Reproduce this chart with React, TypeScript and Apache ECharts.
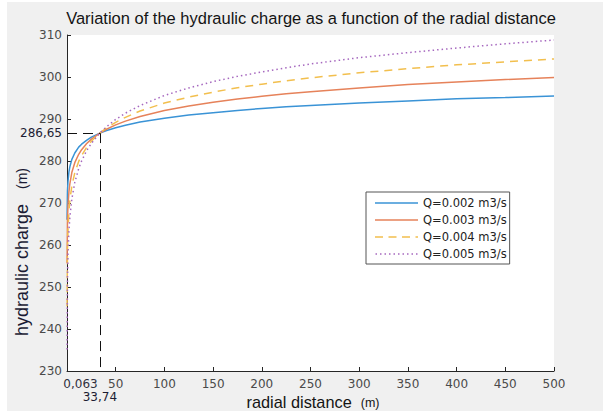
import React, { useEffect, useRef } from "react";
import * as echarts from "echarts";

const radialDistance = [0.063, 0.5, 1, 2, 3, 5, 8, 12, 15, 20, 25, 33.74, 40, 50, 60, 75, 100, 125, 150, 175, 200, 225, 250, 300, 350, 400, 450, 500];
const chargeQ002 = [266.0, 272.8, 275.1, 277.4, 278.7, 280.4, 281.9, 283.3, 284.0, 284.9, 285.7, 286.65, 287.2, 287.9, 288.5, 289.3, 290.2, 290.95, 291.5, 292.05, 292.5, 292.9, 293.2, 293.8, 294.3, 294.8, 295.1, 295.5];
const chargeQ003 = [255.7, 265.9, 269.3, 272.7, 274.7, 277.3, 279.6, 281.6, 282.7, 284.1, 285.2, 286.65, 287.5, 288.6, 289.5, 290.6, 292.0, 293.1, 294.0, 294.75, 295.4, 296.0, 296.5, 297.4, 298.2, 298.8, 299.4, 299.9];
const chargeQ004 = [245.4, 259.0, 263.6, 268.1, 270.8, 274.1, 277.2, 279.9, 281.3, 283.2, 284.7, 286.65, 287.8, 289.2, 290.4, 291.9, 293.8, 295.2, 296.4, 297.45, 298.3, 299.1, 299.8, 301.0, 302.0, 302.9, 303.6, 304.3];
const chargeQ005 = [235.1, 252.1, 257.8, 263.5, 266.8, 271.0, 274.9, 278.2, 280.0, 282.4, 284.2, 286.65, 288.05, 289.9, 291.4, 293.2, 295.6, 297.4, 298.9, 300.15, 301.2, 302.2, 303.1, 304.6, 305.8, 306.9, 307.9, 308.8];
const seriesNames = ["Q=0.002 m3/s", "Q=0.003 m3/s", "Q=0.004 m3/s", "Q=0.005 m3/s"];
const refPoint = [33.74, 286.65];
const refLabels = ["33,74", "286,65"];
const firstTickLabel = "0,063";
const titleText = "Variation of the hydraulic charge as a function of the radial distance";

const tickFont = "DejaVu Sans";
const tickColor = "#4a4a4a";

function dashIcon(dash: number, gap: number, total: number, h: number) {
  let d = "path://";
  for (let x = 0; x < total; x += dash + gap) {
    const w = Math.min(dash, total - x);
    d += `M${x},0H${x + w}V${h}H${x}Z`;
  }
  return d;
}

export default function App() {
  const ref = useRef<HTMLDivElement>(null);
  useEffect(() => {
    document.body.style.margin = "0";
    const chart = echarts.init(ref.current!, null, { renderer: "svg" });
    const all = [chargeQ002, chargeQ003, chargeQ004, chargeQ005];
    const colors = ["#3a93d6", "#e6825a", "#f2bf4e", "#a668bf"];
    const types: any[] = ["solid", "solid", [8, 6], [1.5, 3]];
    const icons = [
      "path://M0,0H43V1.5H0Z",
      "path://M0,0H43V1.5H0Z",
      dashIcon(8, 5.5, 43, 1.5),
      dashIcon(1.5, 3, 43, 1.5),
    ];
    const series: any[] = all.map((vals, i) => ({
      name: seriesNames[i],
      type: "line",
      symbol: "none",
      showSymbol: false,
      data: radialDistance.map((r, j) => [r, vals[j]]),
      lineStyle: { color: colors[i], width: 1.5, type: types[i] },
      itemStyle: { color: colors[i] },
      z: 3 + i,
    }));
    series[0].markLine = {
      silent: true,
      symbol: ["none", "none"],
      animation: false,
      lineStyle: { color: "#111", width: 1, type: [10, 6] },
      data: [
        [
          { coord: [0, refPoint[1]], label: { show: true, position: "start", formatter: refLabels[1], distance: 5, fontFamily: tickFont, fontSize: 12, color: "#1c1c33" } },
          { coord: [refPoint[0], refPoint[1]] },
        ],
        [
          { coord: [refPoint[0], refPoint[1]], label: { show: true, position: "end", formatter: refLabels[0], distance: 20, fontFamily: tickFont, fontSize: 12, color: "#1c1c33" } },
          { coord: [refPoint[0], 230] },
        ],
      ],
    };
    chart.setOption({
      animation: false,
      backgroundColor: "#f0f0f0",
      grid: { left: 60, right: 49, top: 33, bottom: 40, show: true, backgroundColor: "#fff", borderWidth: 0 },
      legend: {
        data: seriesNames.map((n, i) => ({ name: n, icon: icons[i] })),
        orient: "vertical",
        left: 359,
        top: 190,
        itemWidth: 43,
        itemHeight: 1.5,
        itemGap: 3,
        padding: [4, 3, 3, 9],
        backgroundColor: "#fff",
        borderColor: "#555",
        borderWidth: 1,
        borderRadius: 0,
        itemStyle: { borderWidth: 0 },
        textStyle: { fontFamily: tickFont, fontSize: 11.5, lineHeight: 14, color: "#222" },
      },
      xAxis: {
        type: "value",
        min: 0,
        max: 500,
        interval: 50,
        splitLine: { show: false },
        axisLine: { lineStyle: { color: "#262626", width: 1 } },
        axisTick: { inside: true, length: 4, lineStyle: { color: "#262626" } },
        axisLabel: {
          margin: 7,
          fontFamily: tickFont,
          fontSize: 12,
          color: tickColor,
          formatter: (v: number) => (v === 0 ? "{a|" + firstTickLabel + "}" : String(v)),
          rich: { a: { padding: [0, 0, 0, 27], fontFamily: tickFont, fontSize: 12, color: "#303040" } },
        },
      },
      yAxis: {
        type: "value",
        min: 230,
        max: 310,
        interval: 10,
        splitLine: { show: false },
        axisLine: { show: true, lineStyle: { color: "#262626", width: 1 } },
        axisTick: { show: true, inside: true, length: 4, lineStyle: { color: "#262626" } },
        axisLabel: { margin: 5, fontFamily: tickFont, fontSize: 12, color: tickColor },
      },
      graphic: [
        {
          type: "text",
          x: 304,
          y: 16,
          scaleX: 0.97,
          style: { text: titleText, fontFamily: "Liberation Sans", fontSize: 17, fill: "#141414", align: "center", verticalAlign: "middle" },
        },
        {
          type: "text",
          x: 306,
          y: 400,
          scaleX: 0.96,
          style: {
            text: "radial distance  {s|(m)}",
            fontFamily: "Liberation Sans",
            fontSize: 17,
            fill: "#141414",
            align: "center",
            verticalAlign: "middle",
            rich: { s: { fontFamily: "Liberation Sans", fontSize: 13, fill: "#141414" } },
          },
        },
        {
          type: "text",
          x: 15,
          y: 250,
          rotation: Math.PI / 2,
          scaleX: 1.0,
          style: {
            text: "hydraulic charge   {s|(m)}",
            fontFamily: "Liberation Sans",
            fontSize: 18,
            fill: "#1a1a33",
            align: "center",
            verticalAlign: "middle",
            rich: { s: { fontFamily: "Liberation Sans", fontSize: 14, fill: "#1a1a33" } },
          },
        },
      ],
      series,
    });
    return () => chart.dispose();
  }, []);
  return (
    <div style={{ position: "relative", width: 603, height: 414, background: "#fff" }}>
      <div ref={ref} style={{ position: "absolute", left: 7, top: 2, width: 596, height: 409 }} />
    </div>
  );
}
